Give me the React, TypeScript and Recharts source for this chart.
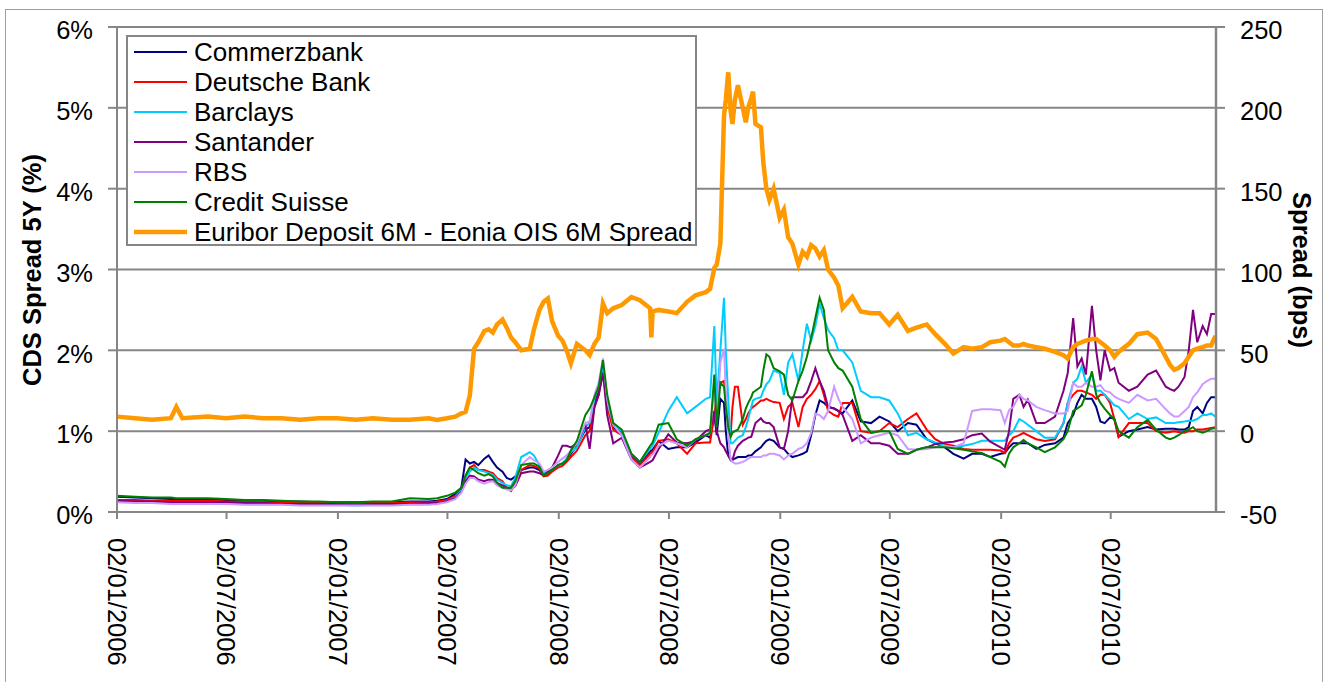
import React from 'react';
import { LineChart, Line, XAxis, YAxis, CartesianGrid, Legend } from 'recharts';

// sample dates (daily series thinned to roughly half-monthly, denser around the spikes)
const dates = [
  '2006-01-02', '2006-02-01', '2006-03-01', '2006-04-01', '2006-04-10', '2006-04-20', '2006-06-01', '2006-07-01', '2006-08-01', '2006-09-01',
  '2006-10-01', '2006-11-01', '2006-12-01', '2007-01-01', '2007-02-01', '2007-03-01', '2007-04-01', '2007-05-01', '2007-06-01', '2007-06-15',
  '2007-07-01', '2007-07-15', '2007-07-25', '2007-08-01', '2007-08-08', '2007-08-15', '2007-08-22', '2007-09-01', '2007-09-08', '2007-09-15',
  '2007-09-22', '2007-10-01', '2007-10-08', '2007-10-15', '2007-10-22', '2007-11-01', '2007-11-15', '2007-11-22', '2007-12-01', '2007-12-08',
  '2007-12-15', '2007-12-22', '2008-01-01', '2008-01-08', '2008-01-15', '2008-01-22', '2008-02-01', '2008-02-15', '2008-02-22', '2008-03-01',
  '2008-03-08', '2008-03-15', '2008-03-22', '2008-04-01', '2008-04-15', '2008-05-01', '2008-05-15', '2008-06-01', '2008-06-03', '2008-06-05',
  '2008-06-15', '2008-07-01', '2008-07-15', '2008-08-01', '2008-08-15', '2008-09-01', '2008-09-08', '2008-09-15', '2008-09-19', '2008-09-25',
  '2008-10-01', '2008-10-04', '2008-10-08', '2008-10-12', '2008-10-15', '2008-10-19', '2008-10-24', '2008-11-01', '2008-11-06', '2008-11-10',
  '2008-11-15', '2008-11-18', '2008-11-22', '2008-12-01', '2008-12-05', '2008-12-10', '2008-12-15', '2008-12-22', '2009-01-01', '2009-01-08',
  '2009-01-15', '2009-01-22', '2009-02-01', '2009-02-08', '2009-02-15', '2009-02-22', '2009-03-01', '2009-03-08', '2009-03-15', '2009-03-22',
  '2009-04-01', '2009-04-08', '2009-04-15', '2009-05-01', '2009-05-15', '2009-06-01', '2009-06-15', '2009-07-01', '2009-07-15', '2009-08-01',
  '2009-08-15', '2009-09-01', '2009-09-15', '2009-10-01', '2009-10-15', '2009-11-01', '2009-11-15', '2009-12-01', '2009-12-15', '2010-01-01',
  '2010-01-08', '2010-01-15', '2010-01-22', '2010-02-01', '2010-02-08', '2010-02-15', '2010-03-01', '2010-03-15', '2010-04-01', '2010-04-15',
  '2010-04-22', '2010-05-01', '2010-05-08', '2010-05-15', '2010-05-22', '2010-06-01', '2010-06-08', '2010-06-15', '2010-06-22', '2010-07-01',
  '2010-07-08', '2010-07-15', '2010-08-01', '2010-08-15', '2010-09-01', '2010-09-15', '2010-10-01', '2010-10-08', '2010-10-15', '2010-10-22',
  '2010-11-01', '2010-11-08', '2010-11-15', '2010-11-22', '2010-12-01', '2010-12-08', '2010-12-15', '2010-12-22',
];

// CDS spread 5Y, %
const commerzbank = [
  0.19, 0.18, 0.17, 0.16, 0.16, 0.16, 0.16, 0.15, 0.15, 0.14,
  0.13, 0.13, 0.12, 0.12, 0.12, 0.12, 0.12, 0.13, 0.13, 0.14,
  0.16, 0.22, 0.30, 0.65, 0.60, 0.62, 0.58, 0.66, 0.70, 0.62,
  0.55, 0.50, 0.42, 0.40, 0.44, 0.52, 0.55, 0.55, 0.52, 0.45,
  0.48, 0.52, 0.58, 0.60, 0.65, 0.72, 0.82, 1.02, 1.05, 1.35,
  1.50, 1.78, 1.35, 1.05, 0.98, 0.70, 0.60, 0.75, 0.76, 0.77,
  0.88, 0.78, 0.80, 0.80, 0.86, 0.95, 0.92, 1.20, 0.95, 1.40,
  1.35, 1.00, 0.70, 0.64, 0.65, 0.66, 0.68, 0.68, 0.68, 0.70,
  0.70, 0.72, 0.75, 0.80, 0.84, 0.88, 0.90, 0.88, 0.80, 0.78,
  0.72, 0.68, 0.70, 0.72, 0.75, 0.95, 1.20, 1.38, 1.35, 1.30,
  1.28, 1.25, 1.22, 1.38, 1.12, 1.10, 1.18, 1.12, 1.00, 1.10,
  1.08, 0.90, 0.85, 0.80, 0.72, 0.66, 0.72, 0.72, 0.68, 0.72,
  0.73, 0.80, 0.85, 0.85, 0.85, 0.85, 0.78, 0.83, 0.85, 0.92,
  1.10, 1.20, 1.35, 1.45, 1.40, 1.40, 1.30, 1.12, 1.10, 1.17,
  1.15, 0.93, 1.00, 1.02, 1.05, 1.02, 1.03, 1.03, 1.03, 1.02,
  1.02, 1.05, 1.25, 1.30, 1.22, 1.35, 1.42, 1.42,
];

const deutscheBank = [
  0.15, 0.15, 0.14, 0.14, 0.14, 0.14, 0.14, 0.13, 0.13, 0.12,
  0.12, 0.11, 0.11, 0.11, 0.10, 0.11, 0.11, 0.12, 0.12, 0.13,
  0.15, 0.20, 0.28, 0.45, 0.55, 0.58, 0.52, 0.52, 0.50, 0.48,
  0.42, 0.38, 0.30, 0.26, 0.35, 0.52, 0.58, 0.57, 0.54, 0.44,
  0.45, 0.50, 0.55, 0.57, 0.62, 0.68, 0.76, 0.95, 1.00, 1.30,
  1.45, 1.75, 1.30, 1.02, 0.95, 0.68, 0.58, 0.72, 0.73, 0.74,
  0.88, 0.90, 0.85, 0.72, 0.85, 0.86, 0.86, 1.20, 1.45, 1.60,
  1.62, 1.40, 1.10, 0.95, 1.30, 1.55, 1.55, 1.08, 1.15, 1.22,
  1.28, 1.30, 1.32, 1.38, 1.38, 1.40, 1.38, 1.36, 1.35, 1.15,
  1.30, 1.35, 1.05, 1.30, 1.40, 1.45, 1.52, 1.62, 1.45, 1.25,
  1.20, 1.18, 1.35, 1.35, 1.00, 0.98, 1.00, 1.10, 1.05, 1.15,
  1.22, 1.02, 0.90, 0.84, 0.82, 0.78, 0.77, 0.77, 0.77, 0.76,
  0.73, 0.85, 0.92, 0.95, 0.98, 0.95, 0.90, 0.88, 0.90, 1.10,
  1.35, 1.45, 1.50, 1.50, 1.48, 1.45, 1.40, 1.45, 1.45, 1.35,
  1.15, 0.93, 1.10, 1.10, 1.10, 1.00, 0.98, 0.99, 1.00, 0.99,
  0.98, 1.00, 1.00, 1.02, 1.02, 1.03, 1.04, 1.05,
];

const barclays = [
  0.13, 0.12, 0.12, 0.11, 0.11, 0.11, 0.11, 0.11, 0.10, 0.10,
  0.10, 0.09, 0.09, 0.09, 0.08, 0.09, 0.09, 0.10, 0.10, 0.11,
  0.13, 0.18, 0.27, 0.42, 0.50, 0.55, 0.52, 0.50, 0.48, 0.46,
  0.40, 0.36, 0.33, 0.32, 0.42, 0.68, 0.74, 0.70, 0.58, 0.48,
  0.50, 0.52, 0.58, 0.60, 0.66, 0.74, 0.80, 1.05, 1.10, 1.40,
  1.55, 1.80, 1.35, 1.10, 1.00, 0.72, 0.62, 0.78, 0.80, 0.82,
  0.98, 1.25, 1.42, 1.22, 1.30, 1.40, 1.42, 2.30, 1.35, 2.00,
  2.65, 2.00, 1.40, 0.85, 0.85, 0.88, 0.92, 0.95, 1.05, 1.15,
  1.30, 1.38, 1.40, 1.42, 1.50, 1.58, 1.62, 1.75, 1.72, 1.45,
  1.85, 1.95, 1.62, 2.00, 2.33, 2.12, 2.30, 2.58, 2.40, 2.25,
  2.15, 2.00, 2.00, 1.85, 1.50, 1.42, 1.42, 1.38, 1.22, 0.95,
  0.98, 0.90, 0.86, 0.82, 0.80, 0.82, 0.84, 0.88, 0.88, 0.88,
  0.88, 0.95, 1.00, 1.15, 1.12, 1.08, 1.00, 0.92, 0.92, 1.10,
  1.35, 1.60, 1.65, 1.80, 1.60, 1.70, 1.50, 1.50, 1.45, 1.38,
  1.32, 1.30, 1.15, 1.22, 1.15, 1.17, 1.10, 1.10, 1.10, 1.11,
  1.12, 1.13, 1.13, 1.15, 1.20, 1.20, 1.22, 1.18,
];

const santander = [
  0.14, 0.13, 0.13, 0.12, 0.12, 0.12, 0.12, 0.12, 0.11, 0.11,
  0.10, 0.10, 0.10, 0.10, 0.09, 0.10, 0.10, 0.10, 0.11, 0.11,
  0.13, 0.17, 0.25, 0.38, 0.45, 0.44, 0.40, 0.38, 0.40, 0.40,
  0.36, 0.33, 0.30, 0.28, 0.32, 0.48, 0.50, 0.50, 0.48, 0.45,
  0.50, 0.55, 0.70, 0.82, 0.82, 0.80, 0.85, 1.08, 0.78, 1.30,
  1.45, 1.72, 1.20, 0.85, 0.92, 0.65, 0.55, 0.62, 0.63, 0.64,
  0.78, 0.96, 0.86, 0.85, 0.88, 1.00, 1.02, 1.25, 1.00, 0.85,
  0.80, 0.75, 0.70, 0.66, 0.64, 0.75, 0.82, 0.88, 0.90, 0.92,
  0.93, 1.00, 1.10, 1.16, 1.12, 1.10, 1.10, 1.05, 0.80, 0.78,
  1.00, 1.42, 1.42, 1.42, 1.48, 1.62, 1.78, 1.62, 1.50, 1.30,
  1.28, 1.25, 1.20, 0.88, 0.95, 0.85, 0.85, 0.82, 0.72, 0.72,
  0.77, 0.80, 0.84, 0.86, 0.87, 0.90, 0.95, 0.97, 0.87, 0.80,
  0.77, 1.00, 1.40, 1.45, 1.30, 1.39, 1.10, 1.10, 1.18, 1.50,
  1.72, 2.40, 1.80, 1.90, 1.70, 2.55, 2.00, 1.63, 2.00, 1.75,
  1.78, 1.60, 1.50, 1.55, 1.70, 1.75, 1.55, 1.52, 1.50, 1.55,
  1.67, 2.00, 2.50, 2.10, 2.30, 2.20, 2.45, 2.45,
];

const rbs = [
  0.12, 0.11, 0.11, 0.10, 0.10, 0.10, 0.10, 0.10, 0.09, 0.09,
  0.09, 0.08, 0.08, 0.08, 0.08, 0.08, 0.08, 0.09, 0.09, 0.10,
  0.12, 0.16, 0.24, 0.35, 0.42, 0.42, 0.38, 0.35, 0.37, 0.38,
  0.33, 0.30, 0.28, 0.27, 0.33, 0.58, 0.68, 0.64, 0.60, 0.50,
  0.52, 0.55, 0.62, 0.66, 0.70, 0.76, 0.85, 1.10, 1.12, 1.45,
  1.60, 1.90, 1.40, 1.08, 0.95, 0.65, 0.55, 0.68, 0.70, 0.71,
  0.82, 0.88, 0.85, 0.80, 0.90, 0.95, 0.98, 1.55, 1.10, 1.85,
  2.02, 1.50, 0.95, 0.65, 0.62, 0.60, 0.60, 0.62, 0.64, 0.66,
  0.68, 0.68, 0.68, 0.68, 0.70, 0.70, 0.72, 0.72, 0.70, 0.65,
  0.70, 0.72, 0.78, 0.80, 0.85, 0.98, 1.22, 1.20, 1.15, 1.25,
  1.55, 1.40, 1.30, 1.15, 0.85, 0.92, 0.95, 0.98, 0.95, 0.78,
  0.77, 0.78, 0.80, 0.82, 0.80, 0.85, 1.25, 1.27, 1.27, 1.26,
  1.10, 1.26, 1.30, 1.45, 1.40, 1.38, 1.30, 1.26, 1.22, 1.22,
  1.25, 1.60, 1.55, 1.55, 1.60, 1.55, 1.55, 1.57, 1.50, 1.48,
  1.43, 1.40, 1.35, 1.45, 1.38, 1.40, 1.27, 1.22, 1.18, 1.18,
  1.25, 1.30, 1.42, 1.48, 1.58, 1.62, 1.65, 1.65,
];

const creditSuisse = [
  0.20, 0.19, 0.18, 0.18, 0.17, 0.17, 0.17, 0.16, 0.15, 0.15,
  0.14, 0.13, 0.13, 0.12, 0.12, 0.13, 0.13, 0.17, 0.16, 0.17,
  0.20, 0.24, 0.30, 0.45, 0.55, 0.52, 0.48, 0.45, 0.47, 0.44,
  0.36, 0.30, 0.30, 0.30, 0.38, 0.58, 0.60, 0.60, 0.56, 0.45,
  0.48, 0.52, 0.58, 0.60, 0.64, 0.76, 0.88, 1.20, 1.28, 1.42,
  1.55, 1.88, 1.45, 1.10, 1.02, 0.72, 0.62, 0.82, 0.84, 0.86,
  1.08, 1.10, 0.90, 0.82, 0.90, 0.95, 0.98, 1.70, 1.05, 1.60,
  1.55, 1.30, 1.05, 0.93, 0.98, 1.00, 1.02, 1.15, 1.28, 1.35,
  1.42, 1.48, 1.50, 1.55, 1.75, 1.95, 1.92, 1.78, 1.74, 1.70,
  1.45, 1.38, 1.62, 1.75, 1.92, 2.15, 2.40, 2.65, 2.50, 2.00,
  1.85, 1.78, 1.75, 1.55, 1.15, 0.98, 1.00, 1.00, 0.78, 0.72,
  0.77, 0.80, 0.80, 0.80, 0.79, 0.77, 0.75, 0.73, 0.68, 0.62,
  0.56, 0.72, 0.80, 0.85, 0.89, 0.85, 0.80, 0.74, 0.80, 0.90,
  1.00, 1.25, 1.28, 1.32, 1.45, 1.74, 1.45, 1.35, 1.28, 1.20,
  1.15, 1.00, 0.92, 1.05, 1.14, 1.02, 0.92, 0.90, 0.92, 0.95,
  1.00, 1.02, 1.05, 1.00, 0.98, 1.00, 1.03, 1.04,
];

// Euribor deposit 6M - Eonia OIS 6M, bps
const euriborOis = [
  9, 8, 7, 8, 15, 8, 9, 8, 9, 8,
  8, 7, 8, 8, 7, 8, 7, 7, 8, 7,
  8, 9, 11, 12, 22, 51, 55, 62, 63, 61,
  66, 69, 64, 58, 55, 50, 51, 63, 75, 80,
  82, 68, 59, 56, 50, 42, 54, 50, 47, 54,
  58, 79, 73, 76, 78, 83, 81, 76, 58, 74,
  75, 74, 73, 80, 84, 86, 88, 101, 103, 116,
  195, 205, 222, 198, 190, 205, 214, 200, 191, 200,
  206, 210, 190, 188, 166, 150, 143, 150, 132, 137,
  120, 116, 103, 111, 108, 115, 113, 108, 112, 100,
  95, 90, 76, 83, 74, 73, 73, 66, 72, 62,
  64, 66, 60, 54, 48, 52, 51, 52, 55, 56,
  57, 55, 53, 53, 54, 53, 52, 51, 49, 47,
  45, 52, 54, 55, 56, 57, 57, 55, 53, 50,
  46, 49, 54, 60, 61, 57, 46, 41, 38, 39,
  42, 46, 50, 51, 52, 53, 53, 59,
];

const xTickLabels = [
  '02/01/2006', '02/07/2006', '02/01/2007', '02/07/2007', '02/01/2008',
  '02/07/2008', '02/01/2009', '02/07/2009', '02/01/2010', '02/07/2010',
];
const pctTicks = [0, 1, 2, 3, 4, 5, 6];
const bpsTicks = [-50, 0, 50, 100, 150, 200, 250];

const series = [
  { key: 'commerzbank', name: 'Commerzbank', color: '#000080', width: 2, axis: 'pct' },
  { key: 'deutscheBank', name: 'Deutsche Bank', color: '#FF0000', width: 2, axis: 'pct' },
  { key: 'barclays', name: 'Barclays', color: '#00CCFF', width: 2, axis: 'pct' },
  { key: 'santander', name: 'Santander', color: '#800080', width: 2, axis: 'pct' },
  { key: 'rbs', name: 'RBS', color: '#CC99FF', width: 2, axis: 'pct' },
  { key: 'creditSuisse', name: 'Credit Suisse', color: '#008000', width: 2, axis: 'pct' },
  { key: 'euriborOis', name: 'Euribor Deposit 6M - Eonia OIS 6M Spread', color: '#FF9900', width: 4.5, axis: 'bps' },
];

const FONT = '"Liberation Sans", Arial, Helvetica, sans-serif';
const GREY = '#868686';

const parseDmy = (s: string) => {
  const [d, m, y] = s.split('/').map(Number);
  return Date.UTC(y, m - 1, d);
};
const xTicks = xTickLabels.map(parseDmy);

const data = dates.map((d, i) => ({
  t: Date.parse(d + 'T00:00:00Z'),
  commerzbank: commerzbank[i],
  deutscheBank: deutscheBank[i],
  barclays: barclays[i],
  santander: santander[i],
  rbs: rbs[i],
  creditSuisse: creditSuisse[i],
  euriborOis: euriborOis[i],
}));

const PctTick = ({ x, y, payload }: any) => (
  <text x={x} y={y + 3} dy="0.36em" textAnchor="end" fontFamily={FONT} fontSize={25.5} fill="#000">
    {payload.value}%
  </text>
);

const BpsTick = ({ x, y, payload }: any) => (
  <text x={x} y={y + 3} dy="0.36em" textAnchor="start" fontFamily={FONT} fontSize={25.5} fill="#000">
    {payload.value}
  </text>
);

const DateTick = ({ x, y, payload }: any) => (
  <text
    transform={`rotate(90, ${x}, ${y})`}
    x={x}
    y={y}
    dy="0.36em"
    textAnchor="start"
    fontFamily={FONT}
    fontSize={25.5}
    fill="#000"
  >
    {xTickLabels[xTicks.indexOf(payload.value)]}
  </text>
);

const LegendBox = () => (
  <div
    style={{
      boxSizing: 'border-box',
      width: 571,
      height: 211,
      background: '#fff',
      border: `2px solid ${GREY}`,
      fontFamily: FONT,
      fontSize: 26,
      color: '#000',
    }}
  >
    {series.map((s) => (
      <div key={s.key} style={{ height: 30, display: 'flex', alignItems: 'center' }}>
        <svg width={66} height={30} style={{ flex: 'none' }}>
          <line x1={6} x2={59} y1={15} y2={15} stroke={s.color} strokeWidth={s.width} />
        </svg>
        <span style={{ whiteSpace: 'nowrap', lineHeight: '30px' }}>{s.name}</span>
      </div>
    ))}
  </div>
);

export default function App() {
  return (
    <div style={{ position: 'absolute', left: 0, top: 0, width: 1330, height: 682, overflow: 'hidden', background: '#fff' }}>
      <div
        style={{
          position: 'absolute',
          left: 5,
          top: 9,
          width: 1318,
          height: 720,
          border: '1px solid #a0a0a0',
          boxSizing: 'border-box',
        }}
      />
      <LineChart width={1330} height={682} data={data} margin={{ top: 27, right: 14, bottom: 20, left: 17 }}>
        <CartesianGrid yAxisId="pct" vertical={false} stroke={GREY} strokeWidth={2} />
        <XAxis
          dataKey="t"
          type="number"
          domain={[Date.UTC(2006, 0, 2), Date.UTC(2010, 11, 23)]}
          ticks={xTicks}
          interval={0}
          height={150}
          tickSize={7}
          tickMargin={19}
          axisLine={{ stroke: GREY, strokeWidth: 2 }}
          tickLine={{ stroke: GREY, strokeWidth: 2 }}
          tick={DateTick}
        />
        <YAxis
          yAxisId="pct"
          domain={[0, 6]}
          ticks={pctTicks}
          interval={0}
          width={100}
          tickSize={9}
          tickMargin={15}
          axisLine={{ stroke: GREY, strokeWidth: 2 }}
          tickLine={{ stroke: GREY, strokeWidth: 2 }}
          tick={PctTick}
          label={() => (
            <text
              transform="rotate(-90, 32, 270)"
              x={32}
              y={270}
              dy="0.36em"
              textAnchor="middle"
              fontFamily={FONT}
              fontSize={25.5}
              fontWeight="bold"
              fill="#000"
            >
              CDS Spread 5Y (%)
            </text>
          )}
        />
        <YAxis
          yAxisId="bps"
          orientation="right"
          domain={[-50, 250]}
          ticks={bpsTicks}
          interval={0}
          width={100}
          tickSize={9}
          tickMargin={15}
          axisLine={{ stroke: GREY, strokeWidth: 2.5 }}
          tickLine={{ stroke: GREY, strokeWidth: 2 }}
          tick={BpsTick}
          label={() => (
            <text
              transform="rotate(90, 1302, 270)"
              x={1302}
              y={270}
              dy="0.36em"
              textAnchor="middle"
              fontFamily={FONT}
              fontSize={25.5}
              fontWeight="bold"
              fill="#000"
            >
              Spread (bps)
            </text>
          )}
        />
        <Legend
          layout="vertical"
          align="center"
          verticalAlign="middle"
          content={() => <LegendBox />}
          wrapperStyle={{ left: 126, top: 35, width: 571, height: 211 }}
        />
        {series.map((s) => (
          <Line
            key={s.key}
            yAxisId={s.axis}
            type="linear"
            dataKey={s.key}
            name={s.name}
            stroke={s.color}
            strokeWidth={s.width}
            dot={false}
            activeDot={false}
            isAnimationActive={false}
          />
        ))}
      </LineChart>
    </div>
  );
}
